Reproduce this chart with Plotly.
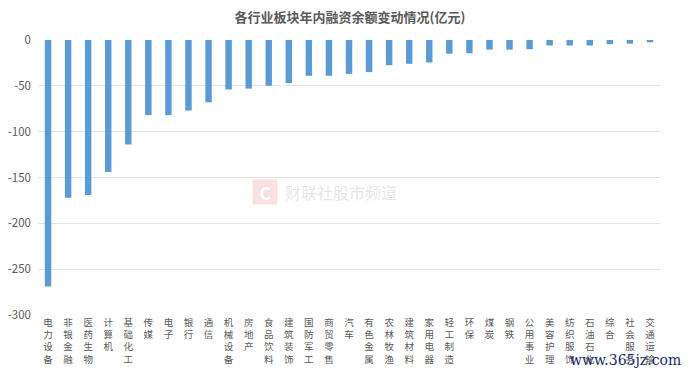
import plotly.graph_objects as go

categories = ["电力设备", "非银金融", "医药生物", "计算机", "基础化工", "传媒", "电子", "银行",
              "通信", "机械设备", "房地产", "食品饮料", "建筑装饰", "国防军工", "商贸零售", "汽车",
              "有色金属", "农林牧渔", "建筑材料", "家用电器", "轻工制造", "环保", "煤炭", "钢铁",
              "公用事业", "美容护理", "纺织服饰", "石油石化", "综合", "社会服务", "交通运输"]
values = [-269, -172, -169, -144, -114, -82, -82, -77, -68, -54, -53, -50, -47, -39, -39, -37,
          -35, -27.5, -26, -24.5, -15, -14.5, -10.5, -10.5, -10, -6, -6, -6, -4.5, -4, -2.5]
y_ticks = [0, -50, -100, -150, -200, -250, -300]
title = "各行业板块年内融资余额变动情况(亿元)"

font = "Microsoft YaHei, Noto Sans CJK SC, sans-serif"
vert_labels = ["<br>".join(list(c)) for c in categories]

fig = go.Figure(go.Bar(
    x=categories, y=values, marker=dict(color="#5b9bd5", line=dict(width=0)),
    width=0.32,
))

fig.update_layout(
    width=684, height=368,
    paper_bgcolor="white", plot_bgcolor="white",
    margin=dict(l=30, r=32, t=32, b=61, autoexpand=False),
    title=dict(text="<b>" + title + "</b>", x=0.5, xanchor="center", y=0.975, yanchor="middle",
               font=dict(family=font, size=13, color="#595959"), automargin=False),
    showlegend=False,
    font=dict(family=font, color="#595959"),
)
fig.update_xaxes(
    tickmode="array", tickvals=categories, ticktext=vert_labels,
    tickangle=0, tickfont=dict(size=9.5, color="#595959", family=font),
    showgrid=False, showline=False, ticks="", ticklen=0, automargin=False,
    side="bottom",
)
fig.update_yaxes(
    range=[-300, 0], tickvals=y_ticks, ticktext=[str(v) for v in y_ticks],
    tickfont=dict(size=11.5, color="#595959", family=font),
    showgrid=True, gridcolor="#e4e4e4", gridwidth=1, automargin=False,
    zeroline=False, showline=False, ticks="", ticklabelstandoff=6,
)

# watermark
fig.add_annotation(xref="paper", yref="paper", x=0.365, y=0.447, xanchor="center",
                   text="<b>C</b>", showarrow=False,
                   font=dict(size=17, color="white", family=font),
                   bgcolor="rgba(242,170,170,0.35)", width=22, height=22, borderpad=1)
fig.add_annotation(xref="paper", yref="paper", x=0.394, y=0.447, xanchor="left",
                   text="财联社股市频道", showarrow=False,
                   font=dict(size=16, color="rgba(200,200,200,0.45)", family=font))
fig.add_annotation(xref="paper", yref="paper", x=1.037, y=-0.164, xanchor="right", yanchor="middle",
                   text="www.365jz.com", showarrow=False,
                   font=dict(size=14, color="#1a2a6c", family="DejaVu Serif, serif"))

fig.write_html("out.html")
